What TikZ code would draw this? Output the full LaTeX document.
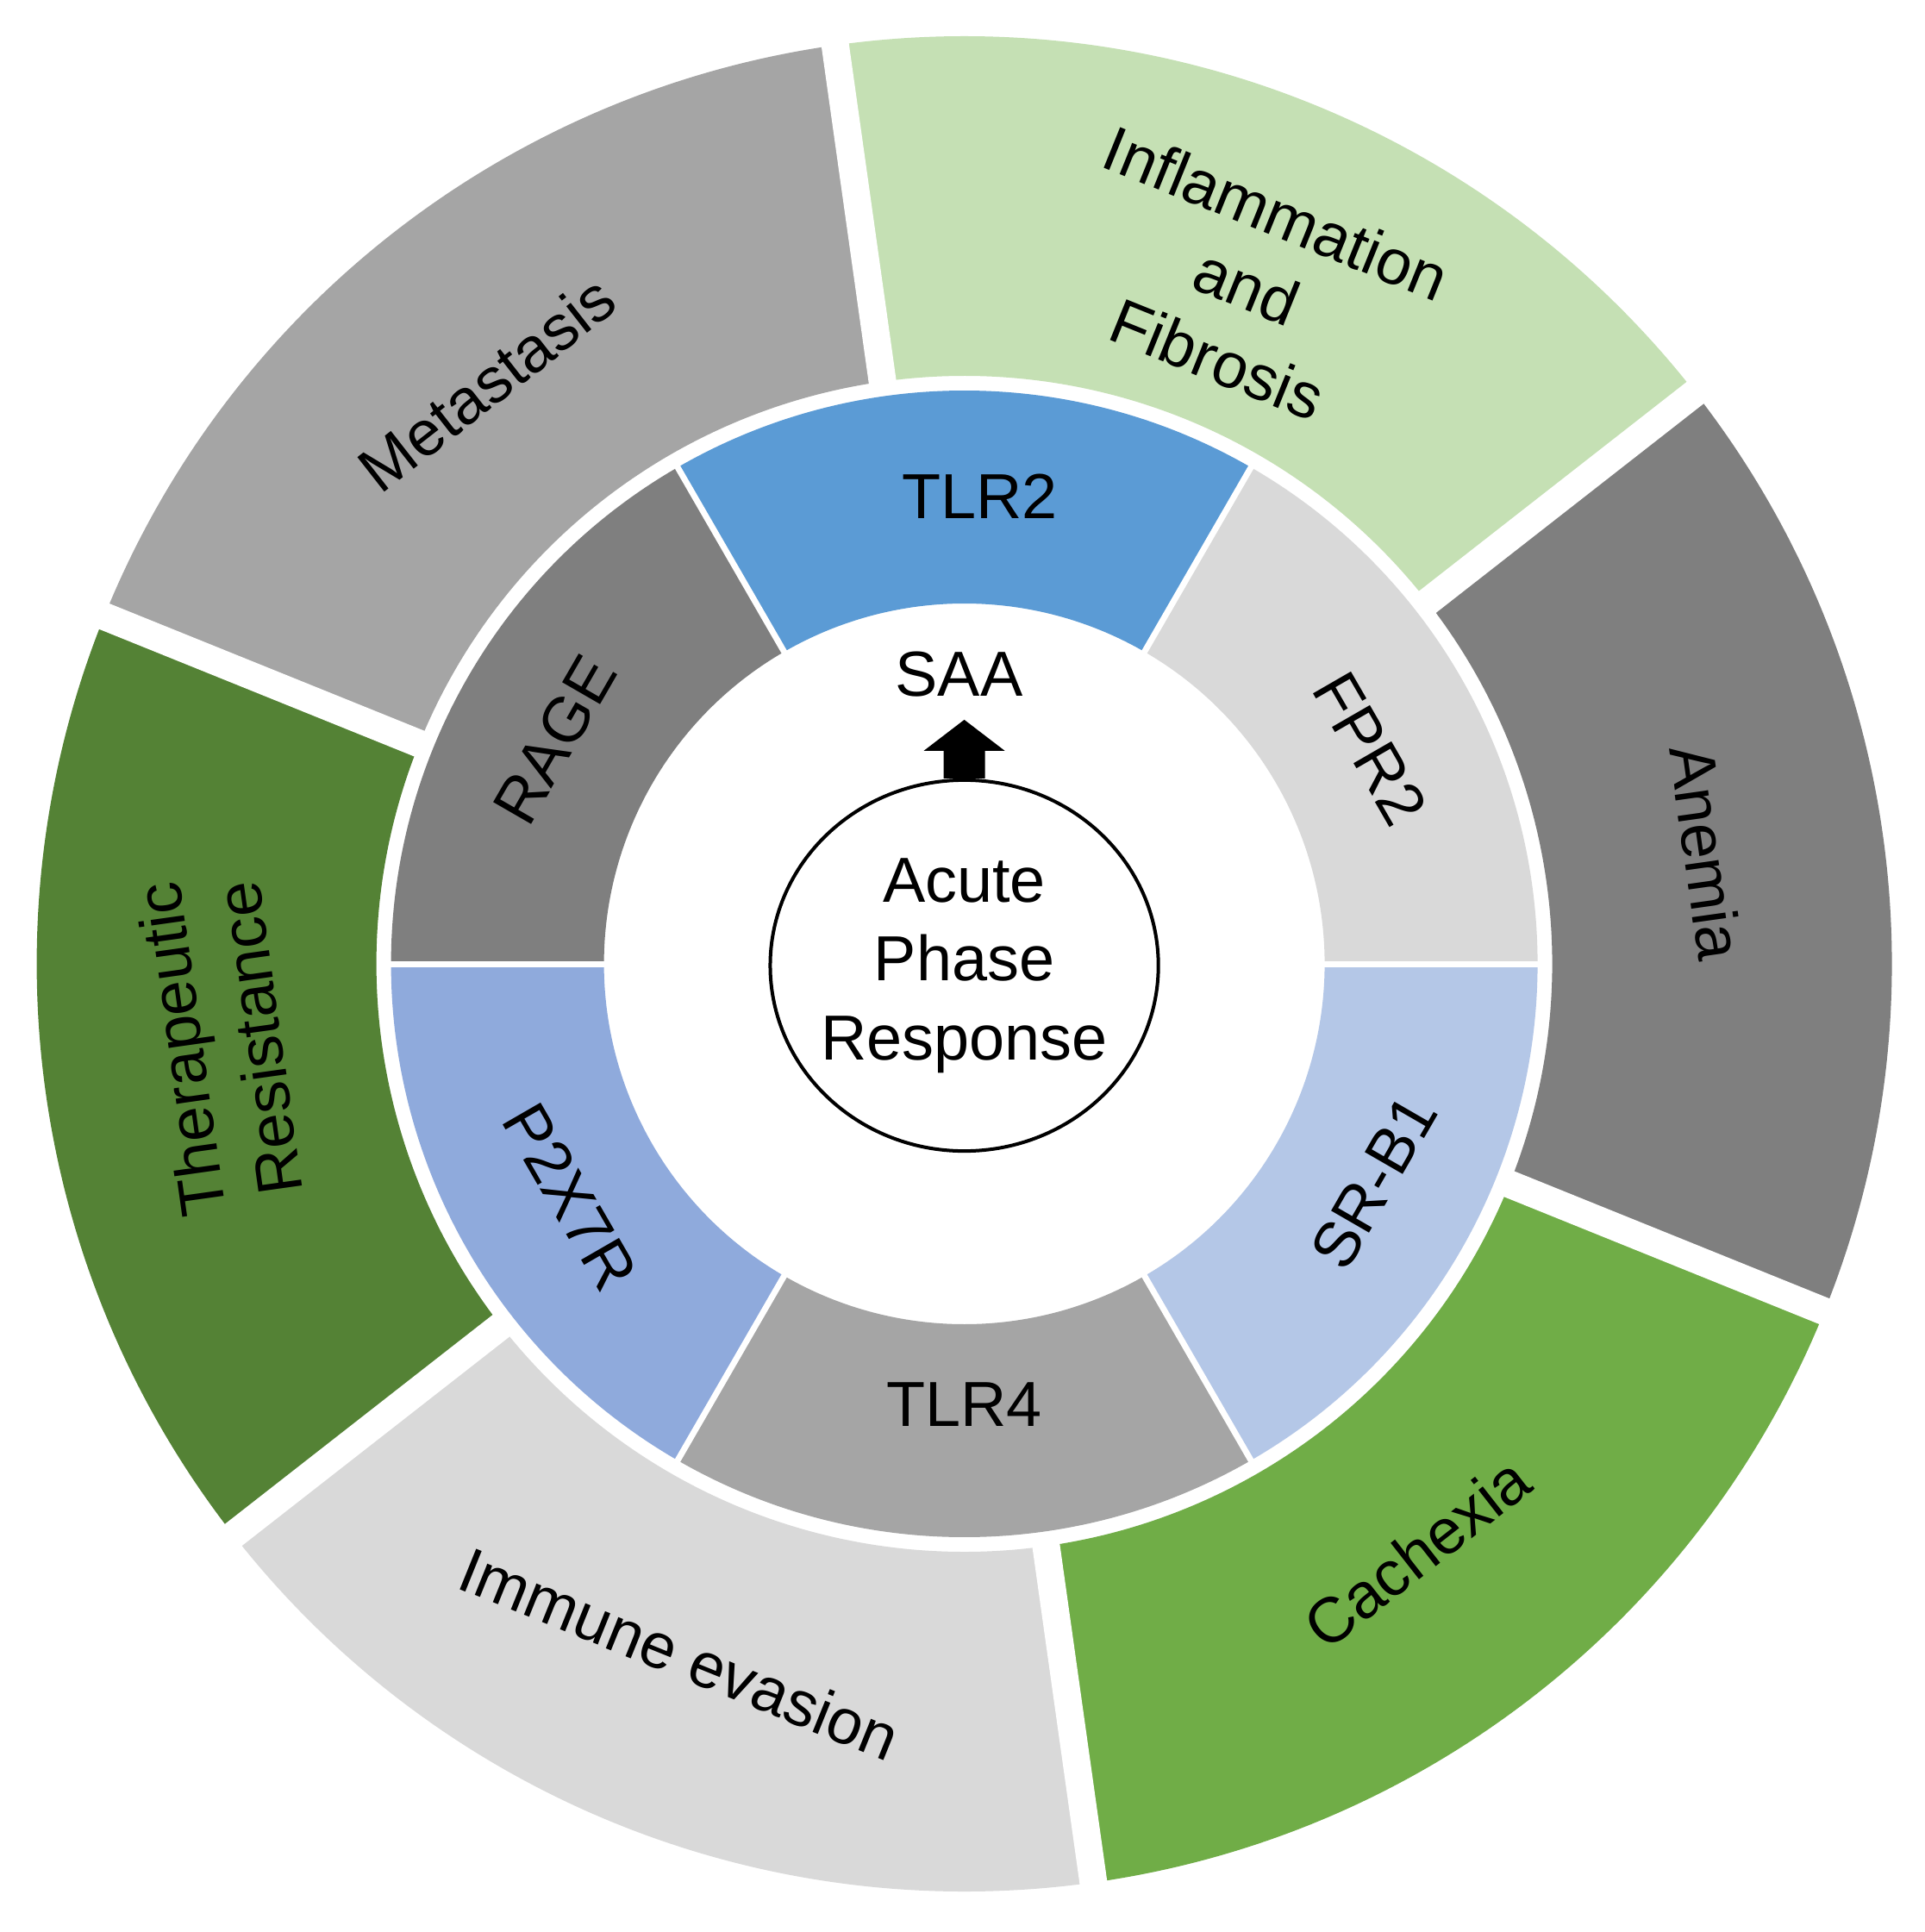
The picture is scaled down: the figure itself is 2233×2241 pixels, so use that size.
\documentclass[tikz,border=0pt]{standalone}
\usepackage{fontspec}
\setmainfont{Liberation Sans}
\usetikzlibrary{shapes.geometric}
\definecolor{cMeta}{HTML}{A5A5A5}
\definecolor{cInfl}{HTML}{C5E0B4}
\definecolor{cAnem}{HTML}{7F7F7F}
\definecolor{cCach}{HTML}{70AD47}
\definecolor{cImm}{HTML}{D9D9D9}
\definecolor{cTher}{HTML}{548235}
\definecolor{cTLRtwo}{HTML}{5B9BD5}
\definecolor{cFPR}{HTML}{D9D9D9}
\definecolor{cSRB}{HTML}{B4C7E7}
\definecolor{cTLRfour}{HTML}{A5A5A5}
\definecolor{cPXR}{HTML}{8FAADC}
\definecolor{cRAGE}{HTML}{7F7F7F}
\begin{document}
\begin{tikzpicture}[x=0.01cm,y=0.01cm,
  lbl/.style={font=\fontsize{21}{26}\selectfont, align=center, inner sep=0pt, text=black},
  outersep/.style={white, line width=0.32cm},
  innersep/.style={white, line width=0.07cm}]
\useasboundingbox (-1118.6,-1123) rectangle (1114.4,1118);
\fill[white] (-1118.6,-1123) rectangle (1114.4,1118);
% outer ring
\foreach \a/\c in {38/cInfl, 98/cMeta, 158/cTher, 218/cImm, 278/cCach, 338/cAnem}{
  \fill[\c] (\a:682) arc[start angle=\a, end angle={\a+60}, radius=682]
    -- ({\a+60}:1076) arc[start angle={\a+60}, end angle=\a, radius=1076] -- cycle;
}
\foreach \a in {38,98,158,218,278,338}{
  \draw[outersep] (\a:673) -- (\a:1120);
}
% inner ring
\foreach \a/\c in {0/cFPR, 60/cTLRtwo, 120/cRAGE, 180/cPXR, 240/cTLRfour, 300/cSRB}{
  \fill[\c] (\a:418) arc[start angle=\a, end angle={\a+60}, radius=418]
    -- ({\a+60}:665) arc[start angle={\a+60}, end angle=\a, radius=665] -- cycle;
}
\foreach \a in {0,60,120,180,240,300}{
  \draw[innersep] (\a:410) -- (\a:670);
}
% centre
\node[draw=black, line width=0.04cm, ellipse, inner sep=0pt, minimum width=4.5cm, minimum height=4.3cm] (apr) at (0,-2) {};
\node[lbl] (aprtext) at (apr.center) {Acute\\Phase\\Response};
\node[lbl] (saa) at (-6,336) {SAA};
\fill[black] ([xshift=-0.24cm]apr.north) -- ++(0,32) -- ++(-23,0) -- ++(47,36) -- ++(47,-36) -- ++(-23,0) -- ++(0,-32) -- cycle;
% inner labels
\node[lbl] (tlr2) at (18,542) {TLR2};
\node[lbl, rotate=-60] (fpr2) at (471,250) {FPR2};
\node[lbl, rotate=60] (srb1) at (475,-253) {SR-B1};
\node[lbl] (tlr4) at (0,-511) {TLR4};
\node[lbl, rotate=-60] (p2x7r) at (-457,-270) {P2X7R};
\node[lbl, rotate=60] (rage) at (-475,260) {RAGE};
% outer labels
\node[lbl, rotate=38] (meta) at (-554,673) {Metastasis};
\node[lbl, rotate=-22] (infl) at (328,786) {Inflammation\\and\\Fibrosis};
\node[lbl, rotate=-82] (anem) at (861,129) {Anemia};
\node[lbl, rotate=38] (cach) at (525,-683) {Cachexia};
\node[lbl, rotate=-22] (imm) at (-330,-800) {Immune evasion};
\node[lbl, rotate=98] (ther) at (-864,-93) {Therapeutic\\Resistance};
\end{tikzpicture}
\end{document}
